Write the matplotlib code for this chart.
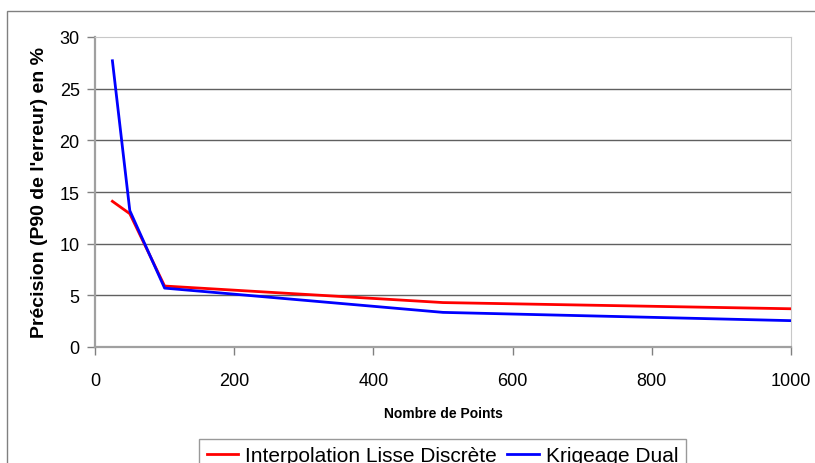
import matplotlib
matplotlib.use("Agg")
import matplotlib.pyplot as plt
from matplotlib.patches import Rectangle

plt.rcParams['font.family'] = ['Liberation Sans', 'DejaVu Sans']

points = [25, 50, 100, 500, 1000]
interp_lisse = [14.1, 12.9, 5.9, 4.3, 3.7]
krigeage = [27.7, 13.2, 5.7, 3.35, 2.55]
series_names = ["Interpolation Lisse Discrète", "Krigeage Dual"]
xticks = [0, 200, 400, 600, 800, 1000]
yticks = [0, 5, 10, 15, 20, 25, 30]

W, H = 815, 464
fig = plt.figure(figsize=(W / 100, H / 100), dpi=100)
fig.patch.set_facecolor('white')

# outer chart-area border
fig.patches.append(Rectangle((7 / W, -0.1), 1.2, 1 - 12 / H + 0.1, transform=fig.transFigure,
                             fill=False, edgecolor='#808080', linewidth=1.0))

ax = fig.add_axes([95 / W, 1 - 348 / H, (791 - 95) / W, (348 - 38) / H])
ax.plot(points, interp_lisse, color='#ff0000', linewidth=2.0, label=series_names[0], zorder=3)
ax.plot(points, krigeage, color='#0000ff', linewidth=2.0, label=series_names[1], zorder=4)

ax.set_xlim(0, 1000)
ax.set_ylim(0, 30)
ax.set_xticks(xticks)
ax.set_yticks(yticks)
ax.tick_params(axis='both', labelsize=13, direction='out', length=6, width=1, color='#808080')
ax.tick_params(axis='y', pad=5)
ax.tick_params(axis='x', pad=12)

for y in yticks[1:-1]:
    ax.axhline(y, color='#606060', linewidth=1.0, zorder=1)

ax.spines['left'].set_color('#a0a0a0')
ax.spines['left'].set_linewidth(1.6)
ax.spines['bottom'].set_color('#a0a0a0')
ax.spines['bottom'].set_linewidth(1.6)
ax.spines['top'].set_color('#c8c8c8')
ax.spines['right'].set_color('#c8c8c8')

ax.set_xlabel("Nombre de Points", fontsize=10, fontweight='bold', labelpad=12)
ax.set_ylabel("Précision (P90 de l'erreur) en %", fontsize=14, fontweight='bold', labelpad=8)

leg = fig.legend(loc='upper center', bbox_to_anchor=(442.5 / W, 1 - 440 / H), ncol=2,
                 fontsize=15, frameon=True, fancybox=False, edgecolor='#808080',
                 handlelength=1.5, handletextpad=0.35, columnspacing=0.5, borderpad=0.35,
                 borderaxespad=0)
leg.get_frame().set_linewidth(1.0)

fig.savefig("out.png", dpi=100, facecolor='white')
